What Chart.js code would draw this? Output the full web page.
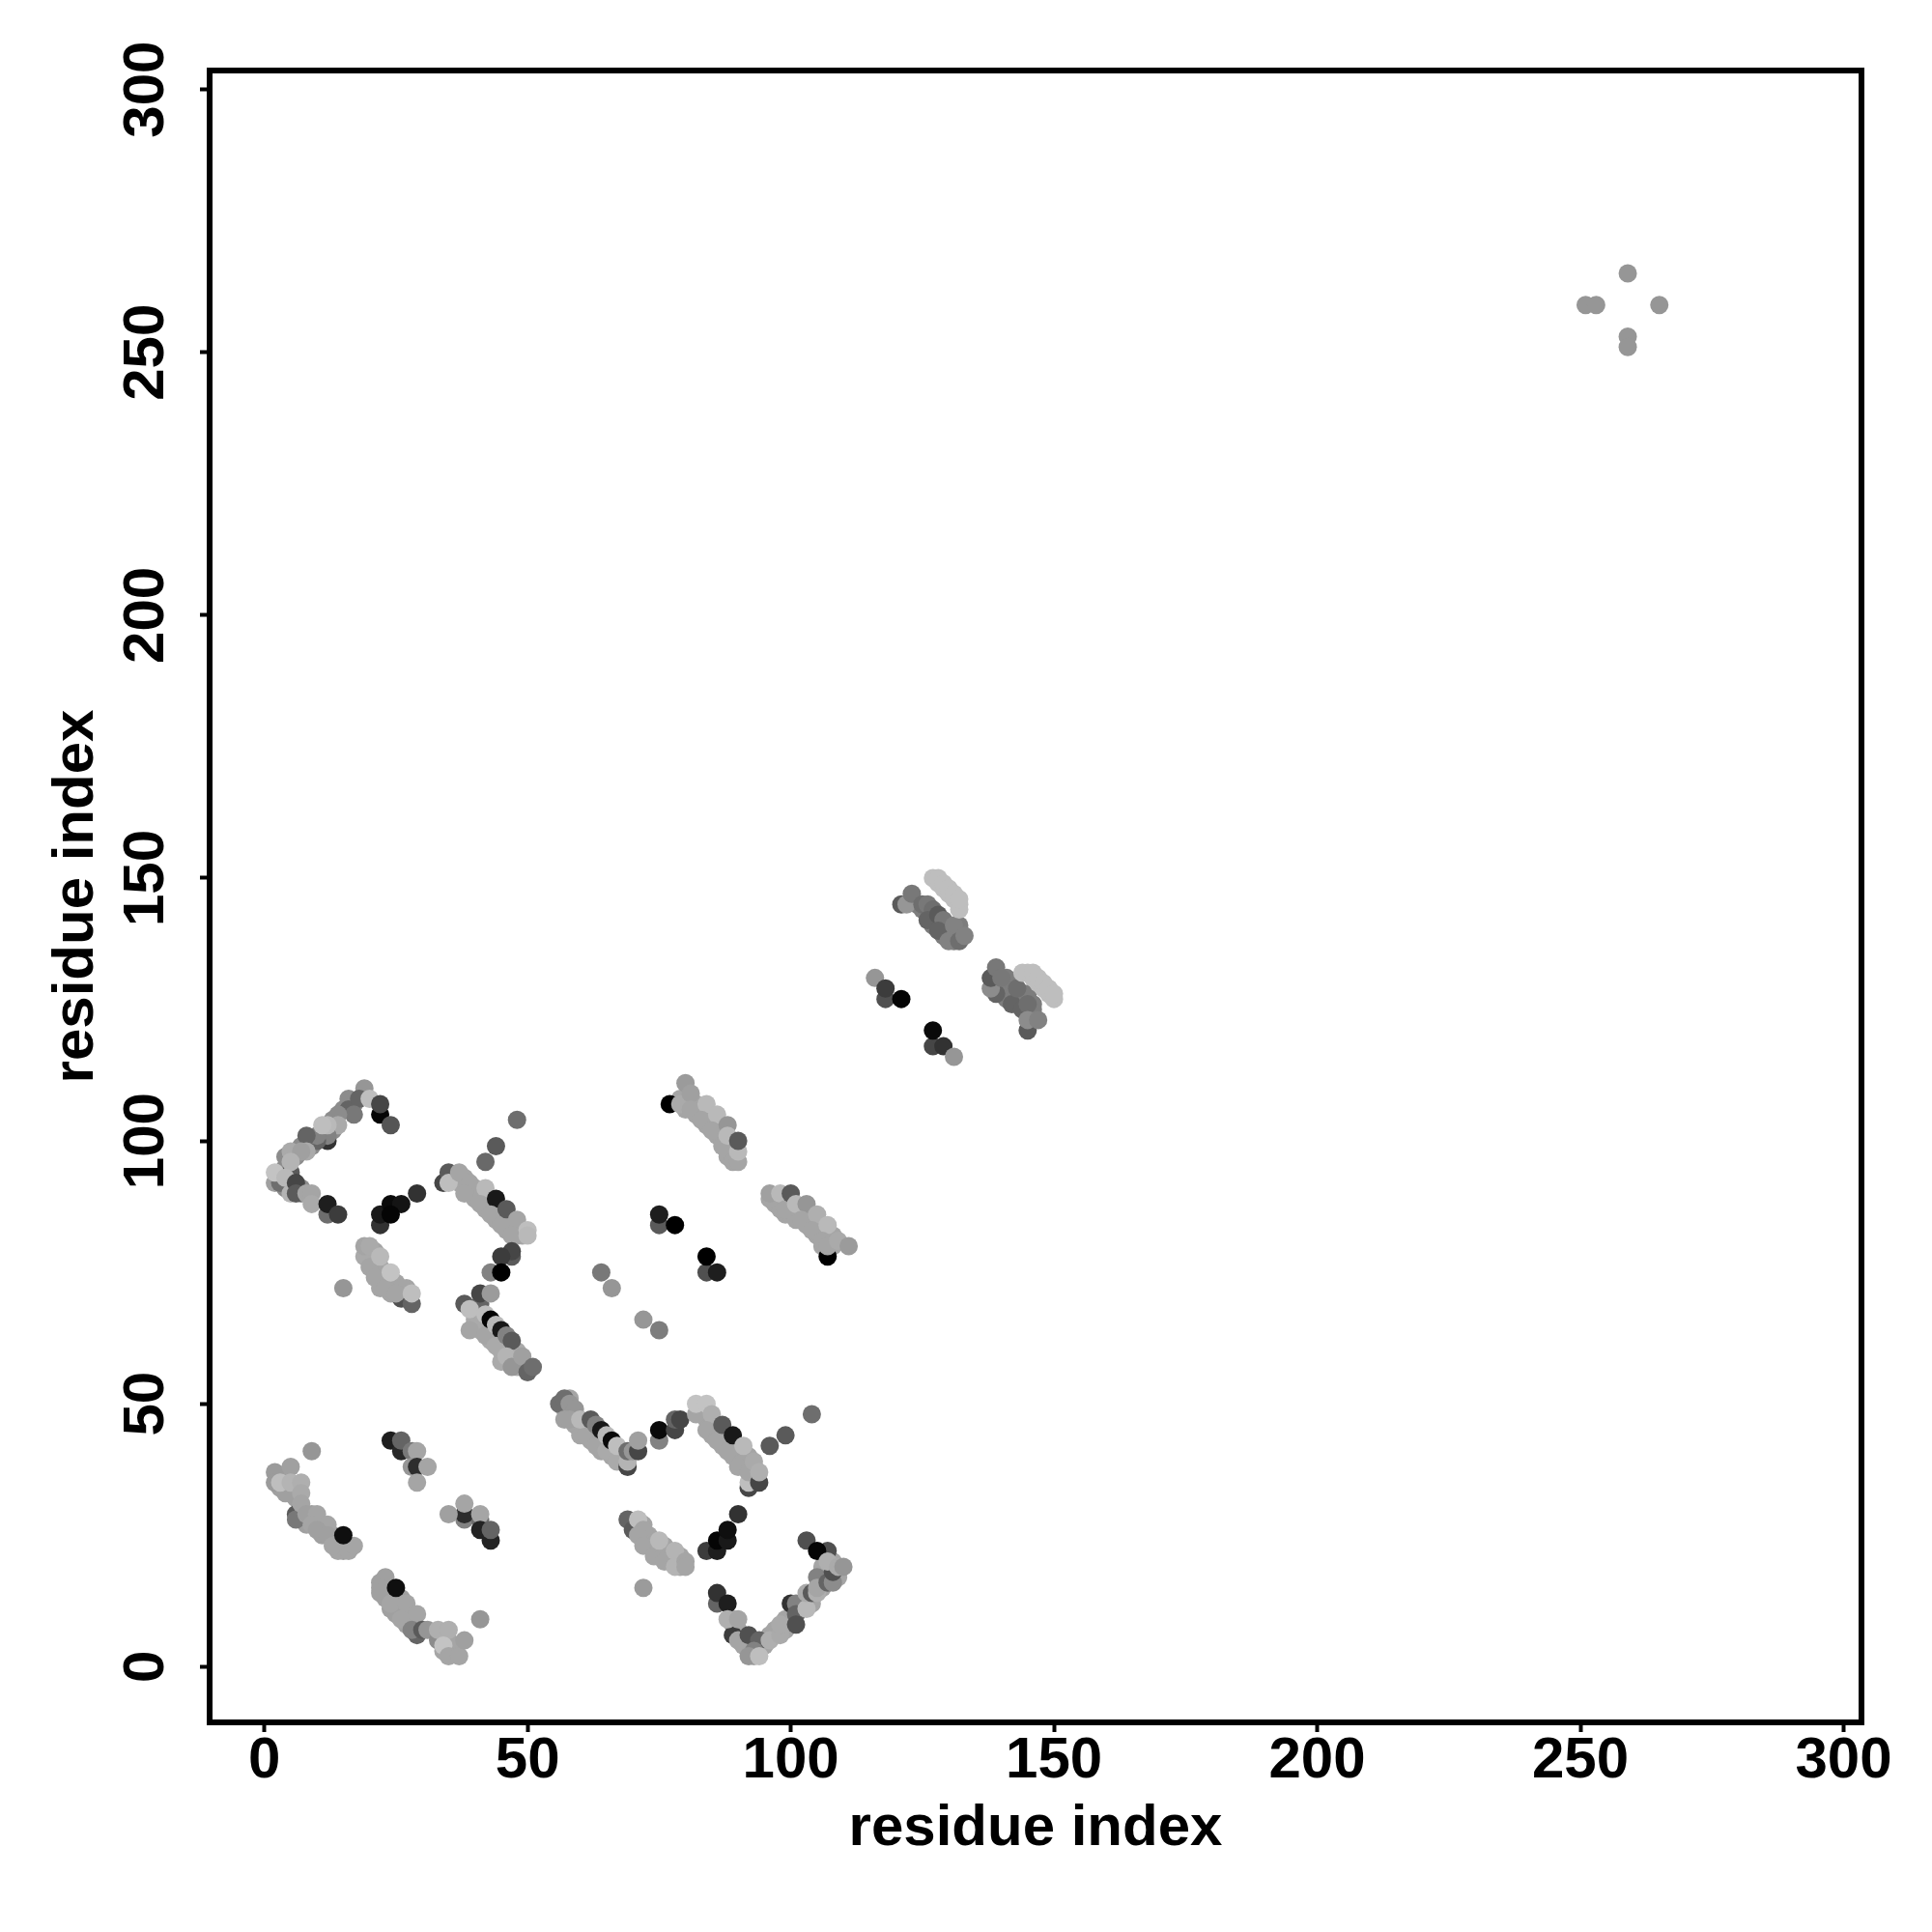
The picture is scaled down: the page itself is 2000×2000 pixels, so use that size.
<!DOCTYPE html>
<html>
<head>
<meta charset="utf-8">
<style>body{margin:0;background:#fff}</style>
<script src="https://cdn.jsdelivr.net/npm/chart.js@4/dist/chart.umd.min.js"></script>
</head>
<body>
<canvas id="contacts" width="2000" height="2000"></canvas>
<script>
const tickValues = [0, 50, 100, 150, 200, 250, 300];
const axisTitle = "residue index";

// one line per group of contacts, drawn in this order
// the first groups are the packed contacts that sit underneath in each strip
const residueI = [
 3,4,6,3,5,6,8,9,11,10,11,13,14,15,15,9,8,12,13,
 22,23,23,25,26,25,24,25,27,27,28,26,34,35,35,36,36,34,
 16,17,15,13,13,9,9,7,6,4,4,3,3,4,7,7,4,
 20,21,21,22,22,23,24,25,24,22,27,27,
 36,37,38,38,39,40,41,40,42,42,43,44,44,45,46,46,47,48,48,49,49,46,
 40,40,40,41,41,42,43,43,44,45,45,46,46,48,48,48,49,45,
 57,58,59,59,60,60,61,62,62,63,64,64,65,66,66,67,68,68,58,
 83,83,84,85,85,86,87,87,88,89,89,90,90,91,91,92,92,93,93,
 71,72,72,73,73,74,74,75,75,76,77,77,78,79,79,79,
 89,89,90,91,91,93,95,97,96,97,99,99,100,102,102,104,104,106,106,106,107,108,109,
 79,80,80,81,82,82,82,83,84,84,85,86,86,87,87,88,89,89,88,
 97,97,98,98,99,100,100,101,101,102,103,103,104,105,105,106,107,108,108,106,
 124,125,126,126,127,127,127,128,128,129,129,129,130,130,130,131,131,132,132,131,132,
 139,139,140,140,141,141,141,141,142,142,142,143,143,143,144,144,144,145,145,145,145,146,146,
 9,2,5,2,4,6,6,3,5,7,7,7,8,10,9,12,10,12,14,16,17,13,15,
 24,26,26,28,29,28,29,31,29,
 38,41,38,35,38,41,41,43,43,
 23,22,22,24,27,26,29,29,28,30,31,33,33,35,34,35,37,38,41,25,
 19,16,16,18,17,20,22,22,24,14,14,12,12,10,10,8,12,11,8,5,7,5,5,2,3,2,4,5,6,6,8,9,9,12,12,14,
 22,22,24,26,24,29,
 15,26,28,19,19,20,20,21,23,26,25,22,24,28,
 48,44,42,34,35,35,37,39,38,42,41,44,43,45,46,48,47,50,50,
 47,47,45,43,45,
 38,41,39,39,42,42,43,44,45,44,46,47,46,47,49,50,51,41,43,
 56,57,58,59,57,58,61,60,62,63,63,65,64,65,67,66,67,69,69,69,70,71,71,
 75,75,78,78,79,
 82,82,84,85,84,86,87,88,89,90,92,92,92,91,93,94,94,96,99,104,
 69,70,71,72,71,72,74,76,76,75,78,78,80,80,72,
 84,86,86,88,88,90,
 86,86,88,89,88,90,90,92,94,93,92,94,96,98,98,100,101,101,101,103,103,104,105,105,105,107,108,108,103,107,105,107,109,110,
 75,75,78,84,86,84,64,66,72,75,
 77,79,80,81,81,84,83,86,85,88,87,88,89,90,90,90,
 107,96,96,98,99,100,101,103,102,105,104,107,106,107,109,111,
 116,118,118,121,127,129,127,131,
 121,122,123,125,126,127,126,128,129,128,131,130,132,133,127,128,129,130,131,132,132,
 139,138,138,139,140,142,143,144,145,145,145,147,144,145,146,147,148,149,150,
 128,129,130,131,132,146,147,148,149,150,
 259,251,253,265,259,259
];
const residueJ = [
 36,35,34,34,33,32,28,28,27,27,25,24,23,23,22,29,27,26,25,
 16,15,13,13,13,11,11,10,10,8,9,11,6,5,4,3,4,3,
 107,107,106,104,102,100,99,99,97,97,95,94,93,91,90,91,92,
 78,79,77,76,74,75,73,73,71,72,71,72,
 93,92,93,92,90,91,90,89,88,87,88,86,85,86,85,83,84,83,82,83,82,84,
 67,66,65,64,65,65,63,62,63,60,62,61,60,58,57,60,57,58,
 49,48,47,46,45,44,46,44,43,44,42,41,43,41,40,41,40,39,51,
 49,48,47,46,44,45,44,42,43,42,40,41,40,39,38,40,38,37,38,
 27,27,25,25,23,24,22,22,21,23,21,20,20,20,19,21,
 8,9,7,5,4,2,4,6,6,7,7,9,9,11,12,12,13,15,18,19,18,20,17,
 108,108,106,107,106,107,105,105,104,103,103,103,101,102,100,99,100,98,97,
 89,88,88,87,86,88,86,86,85,87,86,84,85,84,82,83,82,82,80,80,
 145,144,144,143,143,142,141,142,141,141,140,139,141,140,139,140,139,140,141,138,139,
 131,130,130,129,131,129,128,127,130,129,128,128,127,126,128,127,126,128,127,125,124,125,126,
 41,37,38,35,33,29,28,35,35,35,33,31,29,29,27,27,26,25,22,22,23,23,25,
 43,41,43,41,41,38,38,38,35,
 28,28,29,29,31,29,26,24,26,
 17,15,14,12,12,9,10,6,7,7,7,5,7,7,4,2,2,5,9,15,
 110,108,106,108,105,108,105,107,103,105,103,100,101,100,101,101,103,103,98,98,98,94,96,92,92,94,93,90,92,90,90,90,88,86,88,86,
 84,86,88,88,86,90,
 72,70,69,78,80,80,76,74,72,72,71,78,75,71,
 104,99,96,92,94,92,94,92,90,91,88,89,86,84,87,85,82,83,82,
 78,79,78,75,75,
 69,69,68,64,63,67,66,65,64,61,63,62,59,57,59,56,57,71,71,
 50,51,50,49,47,47,44,47,47,46,42,41,45,44,39,43,42,38,39,41,41,41,43,
 43,45,45,47,47,
 48,50,50,48,45,43,46,41,44,38,34,35,37,42,39,35,37,42,44,48,
 28,26,28,26,25,23,21,22,20,24,22,19,20,19,15,
 22,22,24,24,26,29,
 12,14,12,6,9,9,5,6,5,3,2,2,5,6,8,12,12,10,8,11,14,14,14,17,15,16,16,18,24,22,22,20,19,19,
 84,86,84,75,75,78,75,72,66,64,
 107,107,111,109,106,107,104,105,102,103,99,101,96,96,98,100,
 78,89,90,90,87,90,88,88,85,86,83,84,81,80,81,80,
 131,127,129,127,118,118,121,116,
 145,145,147,145,145,144,142,143,142,140,141,138,138,139,150,149,148,147,146,145,144,
 128,129,131,133,131,126,129,125,126,121,123,123,132,132,131,130,129,128,127,
 150,149,148,147,146,132,131,130,129,128,
 265,259,259,259,253,251
];
// grey level of each contact, 0 black to 255 white
const contactScore = [
 160,160,160,160,160,160,160,160,160,160,160,160,160,160,160,160,160,160,160,
 160,160,160,160,160,160,160,160,160,160,160,160,165,165,165,165,165,165,
 140,140,140,140,140,140,140,140,140,140,140,140,140,140,140,140,140,
 165,165,165,165,165,165,165,165,165,165,165,165,
 165,165,165,165,165,165,165,165,165,165,165,165,165,165,165,165,165,165,165,165,165,165,
 170,170,170,170,170,170,170,170,170,170,170,170,170,170,170,170,170,170,
 165,165,165,165,165,165,165,165,165,165,165,165,165,165,165,165,165,165,165,
 165,165,165,165,165,165,165,165,165,165,165,165,165,165,165,165,165,165,165,
 165,165,165,165,165,165,165,165,165,165,165,165,165,165,165,165,
 165,165,165,165,165,165,165,165,165,165,165,165,165,165,165,165,165,165,165,165,165,165,165,
 165,165,165,165,165,165,165,165,165,165,165,165,165,165,165,165,165,165,165,
 165,165,165,165,165,165,165,165,165,165,165,165,165,165,165,165,165,165,165,165,
 125,125,125,125,125,125,125,125,125,125,125,125,125,125,125,125,125,125,125,125,125,
 125,125,125,125,125,125,125,125,125,125,125,125,125,125,125,125,125,125,125,125,125,125,125,
 150,155,160,155,160,90,120,190,180,175,170,165,160,165,165,165,160,160,165,165,165,165,15,
 30,40,100,120,165,150,45,165,165,
 130,110,45,160,165,165,35,35,100,
 160,160,160,165,165,165,165,100,130,90,150,140,175,175,195,165,165,160,150,15,
 150,140,100,100,120,190,5,70,85,140,170,50,130,100,130,100,185,190,170,170,160,90,180,160,110,195,185,180,70,90,165,165,170,110,30,60,
 50,25,10,20,5,50,
 150,80,100,170,165,170,165,165,165,165,165,185,195,190,
 110,90,105,70,90,190,165,165,165,185,165,25,165,165,90,165,165,190,185,
 90,70,60,130,0,
 90,100,190,165,165,190,5,185,25,170,130,90,180,150,160,100,110,70,155,
 110,110,150,150,160,160,165,185,90,130,165,170,25,185,170,10,190,70,180,110,150,70,160,
 130,10,70,100,70,
 165,195,195,175,165,165,90,165,25,165,70,190,165,185,170,70,175,90,90,110,
 100,90,190,165,165,165,165,165,165,185,180,180,165,165,155,
 60,30,5,25,15,50,
 100,50,30,60,175,165,165,80,100,130,150,190,175,170,170,50,130,100,80,185,170,90,175,130,165,100,140,80,80,80,5,175,170,150,
 90,30,0,80,30,0,120,150,150,125,
 0,170,155,160,165,185,165,185,165,150,165,185,165,165,185,90,
 0,165,160,185,165,90,185,150,165,175,165,185,165,165,170,155,
 150,80,60,5,70,50,10,150,
 90,150,120,110,120,110,100,90,120,100,130,130,110,130,190,190,190,190,190,190,190,
 100,140,90,120,120,100,110,100,110,90,140,130,190,190,190,190,190,190,190,
 190,190,190,190,190,190,190,190,190,190,
 150,150,150,150,150,150
];

function greyOf(v) {
 return 'rgb(' + v + ',' + v + ',' + v + ')';
}

const points = residueI.map(function (v, k) {
 return { x: v, y: residueJ[k] };
});

// R style box around the plot
const boxPlugin = {
 id: 'box',
 afterDatasetsDraw: function (chart) {
  const a = chart.chartArea;
  const c = chart.ctx;
  c.save();
  c.strokeStyle = '#000';
  c.lineWidth = 6;
  c.strokeRect(a.left, a.top, a.right - a.left, a.bottom - a.top);
  c.restore();
 }
};

const tickFont = { family: '"Liberation Sans"', size: 60, weight: 'bold' };
const titleFont = { family: '"Liberation Sans"', size: 60, weight: 'bold' };

new Chart(document.getElementById('contacts').getContext('2d'), {
 type: 'scatter',
 data: {
  datasets: [{
   data: points,
   pointRadius: 9.5,
   pointBorderWidth: 0,
   pointBackgroundColor: contactScore.map(greyOf)
  }]
 },
 options: {
  responsive: false,
  animation: false,
  layout: { padding: { top: 73, right: 73, left: 0, bottom: 0 } },
  plugins: { legend: { display: false }, tooltip: { enabled: false } },
  scales: {
   x: {
    type: 'linear',
    min: -10.4,
    max: 303.4,
    afterBuildTicks: function (s) { s.ticks = tickValues.map(function (v) { return { value: v }; }); },
    afterFit: function (s) { s.height = 217; },
    grid: { display: true, drawOnChartArea: false, drawTicks: true, tickLength: 10, tickWidth: 4, tickColor: '#000' },
    border: { display: false },
    ticks: { autoSkip: false, maxRotation: 0, padding: -6, color: '#000', font: tickFont },
    title: { display: true, text: axisTitle, color: '#000', font: titleFont, padding: { top: 0, bottom: 71 } }
   },
   y: {
    type: 'linear',
    min: -10.6,
    max: 303.6,
    afterBuildTicks: function (s) { s.ticks = tickValues.map(function (v) { return { value: v }; }); },
    afterFit: function (s) { s.width = 217; },
    grid: { display: true, drawOnChartArea: false, drawTicks: true, tickLength: 10, tickWidth: 4, tickColor: '#000' },
    border: { display: false },
    ticks: { autoSkip: false, minRotation: 90, maxRotation: 90, crossAlign: 'center', padding: 4, color: '#000', font: tickFont },
    title: { display: true, text: axisTitle, color: '#000', font: titleFont, padding: { top: 43, bottom: 0 } }
   }
  }
 },
 plugins: [boxPlugin]
});
</script>
</body>
</html>
